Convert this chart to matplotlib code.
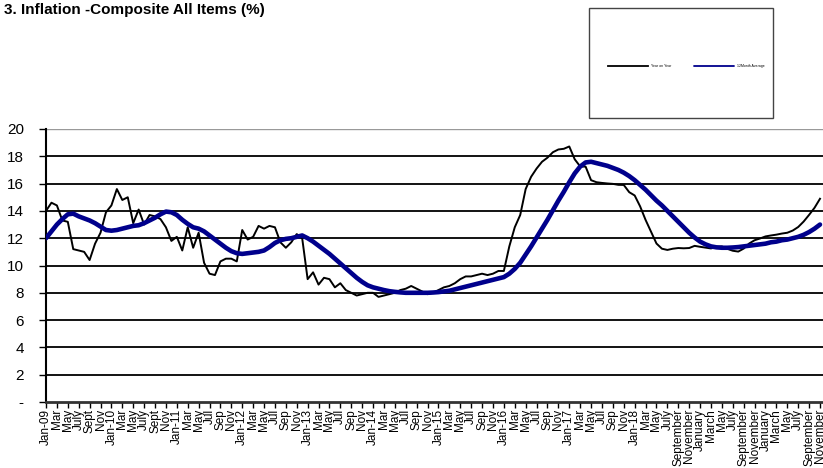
import matplotlib
matplotlib.use("Agg")
from matplotlib import pyplot as plt
from matplotlib.patches import Rectangle

plt.rcParams['font.family'] = ['Liberation Sans', 'DejaVu Sans']

# monthly data, Jan 2009 - Nov 2020
year_on_year = [
    14.0, 14.6, 14.4, 13.3, 13.2, 11.2, 11.1, 11.0, 10.4, 11.6, 12.4, 13.9,   # 2009
    14.4, 15.6, 14.8, 15.0, 13.1, 14.1, 13.0, 13.7, 13.6, 13.4, 12.8, 11.8,   # 2010
    12.1, 11.1, 12.8, 11.3, 12.4, 10.2, 9.4, 9.3, 10.3, 10.5, 10.5, 10.3,     # 2011
    12.6, 11.9, 12.1, 12.9, 12.7, 12.9, 12.8, 11.7, 11.3, 11.7, 12.3, 12.0,   # 2012
    9.0, 9.5, 8.6, 9.1, 9.0, 8.4, 8.7, 8.2, 8.0, 7.8, 7.9, 8.0,               # 2013
    8.0, 7.7, 7.8, 7.9, 8.0, 8.2, 8.3, 8.5, 8.3, 8.1, 7.9, 8.0,               # 2014
    8.2, 8.4, 8.5, 8.7, 9.0, 9.2, 9.2, 9.3, 9.4, 9.3, 9.4, 9.6,               # 2015
    9.6, 11.4, 12.8, 13.7, 15.6, 16.5, 17.1, 17.6, 17.9, 18.3, 18.5, 18.55,   # 2016
    18.72, 17.78, 17.26, 17.24, 16.25, 16.1, 16.05, 16.01, 15.98, 15.91, 15.9, 15.37,  # 2017
    15.13, 14.33, 13.34, 12.48, 11.61, 11.23, 11.14, 11.23, 11.28, 11.26, 11.28, 11.44,  # 2018
    11.37, 11.31, 11.25, 11.37, 11.4, 11.22, 11.08, 11.02, 11.24, 11.61, 11.85, 11.98,   # 2019
    12.13, 12.2, 12.26, 12.34, 12.4, 12.56, 12.82, 13.22, 13.71, 14.23, 14.89,           # 2020
]

twelve_month_avg = [
    12.0, 12.5, 13.0, 13.4, 13.75, 13.8, 13.6, 13.45, 13.3, 13.1, 12.85, 12.6,
    12.55, 12.6, 12.7, 12.8, 12.9, 12.95, 13.1, 13.3, 13.5, 13.75, 13.95, 13.9,
    13.7, 13.35, 13.05, 12.8, 12.7, 12.5, 12.2, 11.9, 11.6, 11.3, 11.05, 10.9,
    10.85, 10.9, 10.95, 11.0, 11.1, 11.35, 11.65, 11.85, 11.95, 12.0, 12.1, 12.2,
    12.0, 11.75, 11.45, 11.15, 10.85, 10.5, 10.15, 9.8, 9.45, 9.1, 8.8, 8.55,
    8.4, 8.3, 8.2, 8.12, 8.07, 8.03, 8.0, 8.0, 8.0, 8.0, 8.0, 8.02,
    8.05, 8.1, 8.15, 8.25, 8.35, 8.45, 8.55, 8.65, 8.75, 8.85, 8.95, 9.05,
    9.15, 9.4, 9.75, 10.2, 10.8, 11.4, 12.05, 12.7, 13.35, 14.05, 14.75, 15.4,
    16.1, 16.75, 17.25, 17.55, 17.6, 17.5, 17.4, 17.3, 17.15, 17.0, 16.8, 16.55,
    16.25, 15.9, 15.55, 15.15, 14.75, 14.4, 14.0, 13.6, 13.2, 12.8, 12.4, 12.05,
    11.75, 11.55, 11.4, 11.33, 11.3, 11.3, 11.32, 11.35, 11.4, 11.45, 11.5, 11.55,
    11.6, 11.7, 11.75, 11.85, 11.9, 12.0, 12.1, 12.25, 12.45, 12.7, 13.0,
]

tick_labels = (
    ['Jan-09', 'Mar', 'May', 'July', 'Sept', 'Nov'] +
    ['Jan-10', 'Mar', 'May', 'July', 'Sept', 'Nov'] +
    ['Jan-11', 'Mar', 'May', 'Jul', 'Sep', 'Nov'] +
    ['Jan-12', 'Mar', 'May', 'Jul', 'Sep', 'Nov'] +
    ['Jan-13', 'Mar', 'May', 'Jul', 'Sep', 'Nov'] +
    ['Jan-14', 'Mar', 'May', 'Jul', 'Sep', 'Nov'] +
    ['Jan-15', 'Mar', 'May', 'Jul', 'Sep', 'Nov'] +
    ['Jan-16', 'Mar', 'May', 'Jul', 'Sep', 'Nov'] +
    ['Jan-17', 'Mar', 'May', 'Jul', 'Sep', 'Nov'] +
    ['Jan-18', 'Mar', 'May', 'July', 'September', 'November'] +
    ['January', 'March', 'May', 'July', 'September', 'November'] +
    ['January', 'March', 'May', 'July', 'September', 'November']
)

y_ticks = [0, 2, 4, 6, 8, 10, 12, 14, 16, 18, 20]
y_labels = ['-', '2', '4', '6', '8', '10', '12', '14', '16', '18', '20']

months = list(range(len(year_on_year)))

fig = plt.figure(figsize=(8.23, 4.68), dpi=100)
ax = fig.add_axes([46 / 823, 66 / 468, 1 - 46 / 823, 273 / 468])

# grid lines
for v in y_ticks[1:-1]:
    ax.axhline(v, color='black', lw=1.3, zorder=1)
ax.axhline(20, color='#999999', lw=1.0, zorder=1)

l1, = ax.plot(months, year_on_year, color='black', lw=1.4, zorder=3, label='Year on Year')
l2, = ax.plot(range(len(twelve_month_avg)), twelve_month_avg, color='#00008C', lw=3.3,
              zorder=4, label='12Month Average', solid_capstyle='round')

ax.set_xlim(0, 142.55)
ax.set_ylim(0, 20)
ax.set_xticks(range(0, 2 * len(tick_labels), 2))
ax.set_xticklabels(tick_labels, rotation=90, fontsize=8.5)
ax.set_yticks(y_ticks)
ax.set_yticklabels(y_labels, fontsize=11)
ax.tick_params(axis='y', length=5, width=1, pad=11, direction='out')
ax.tick_params(axis='x', length=4, width=1, pad=1, direction='out')

for s in ['top', 'right']:
    ax.spines[s].set_visible(False)
ax.spines['left'].set_linewidth(1.5)
ax.spines['bottom'].set_linewidth(2.0)
ax.spines['bottom'].set_color('#333333')

fig.text(4 / 823, 1 - 10 / 468, '3. Inflation -Composite All Items (%)',
         fontsize=11, fontweight='bold', va='center', ha='left')

# legend box
fig.patches.append(Rectangle((589 / 823, 1 - 118 / 468), 184 / 823, 110 / 468,
                             transform=fig.transFigure, fill=False,
                             edgecolor='#444444', lw=1.0))
leg = fig.legend(handles=[l1, l2], loc='center', bbox_to_anchor=(686 / 823, 1 - 66 / 468),
                 ncol=2, frameon=False, fontsize=2.5, handlelength=11.5,
                 handletextpad=0.9, columnspacing=6.5)
for ln in leg.get_lines():
    ln.set_linewidth(1.3)

fig.savefig('out.png', dpi=100)
